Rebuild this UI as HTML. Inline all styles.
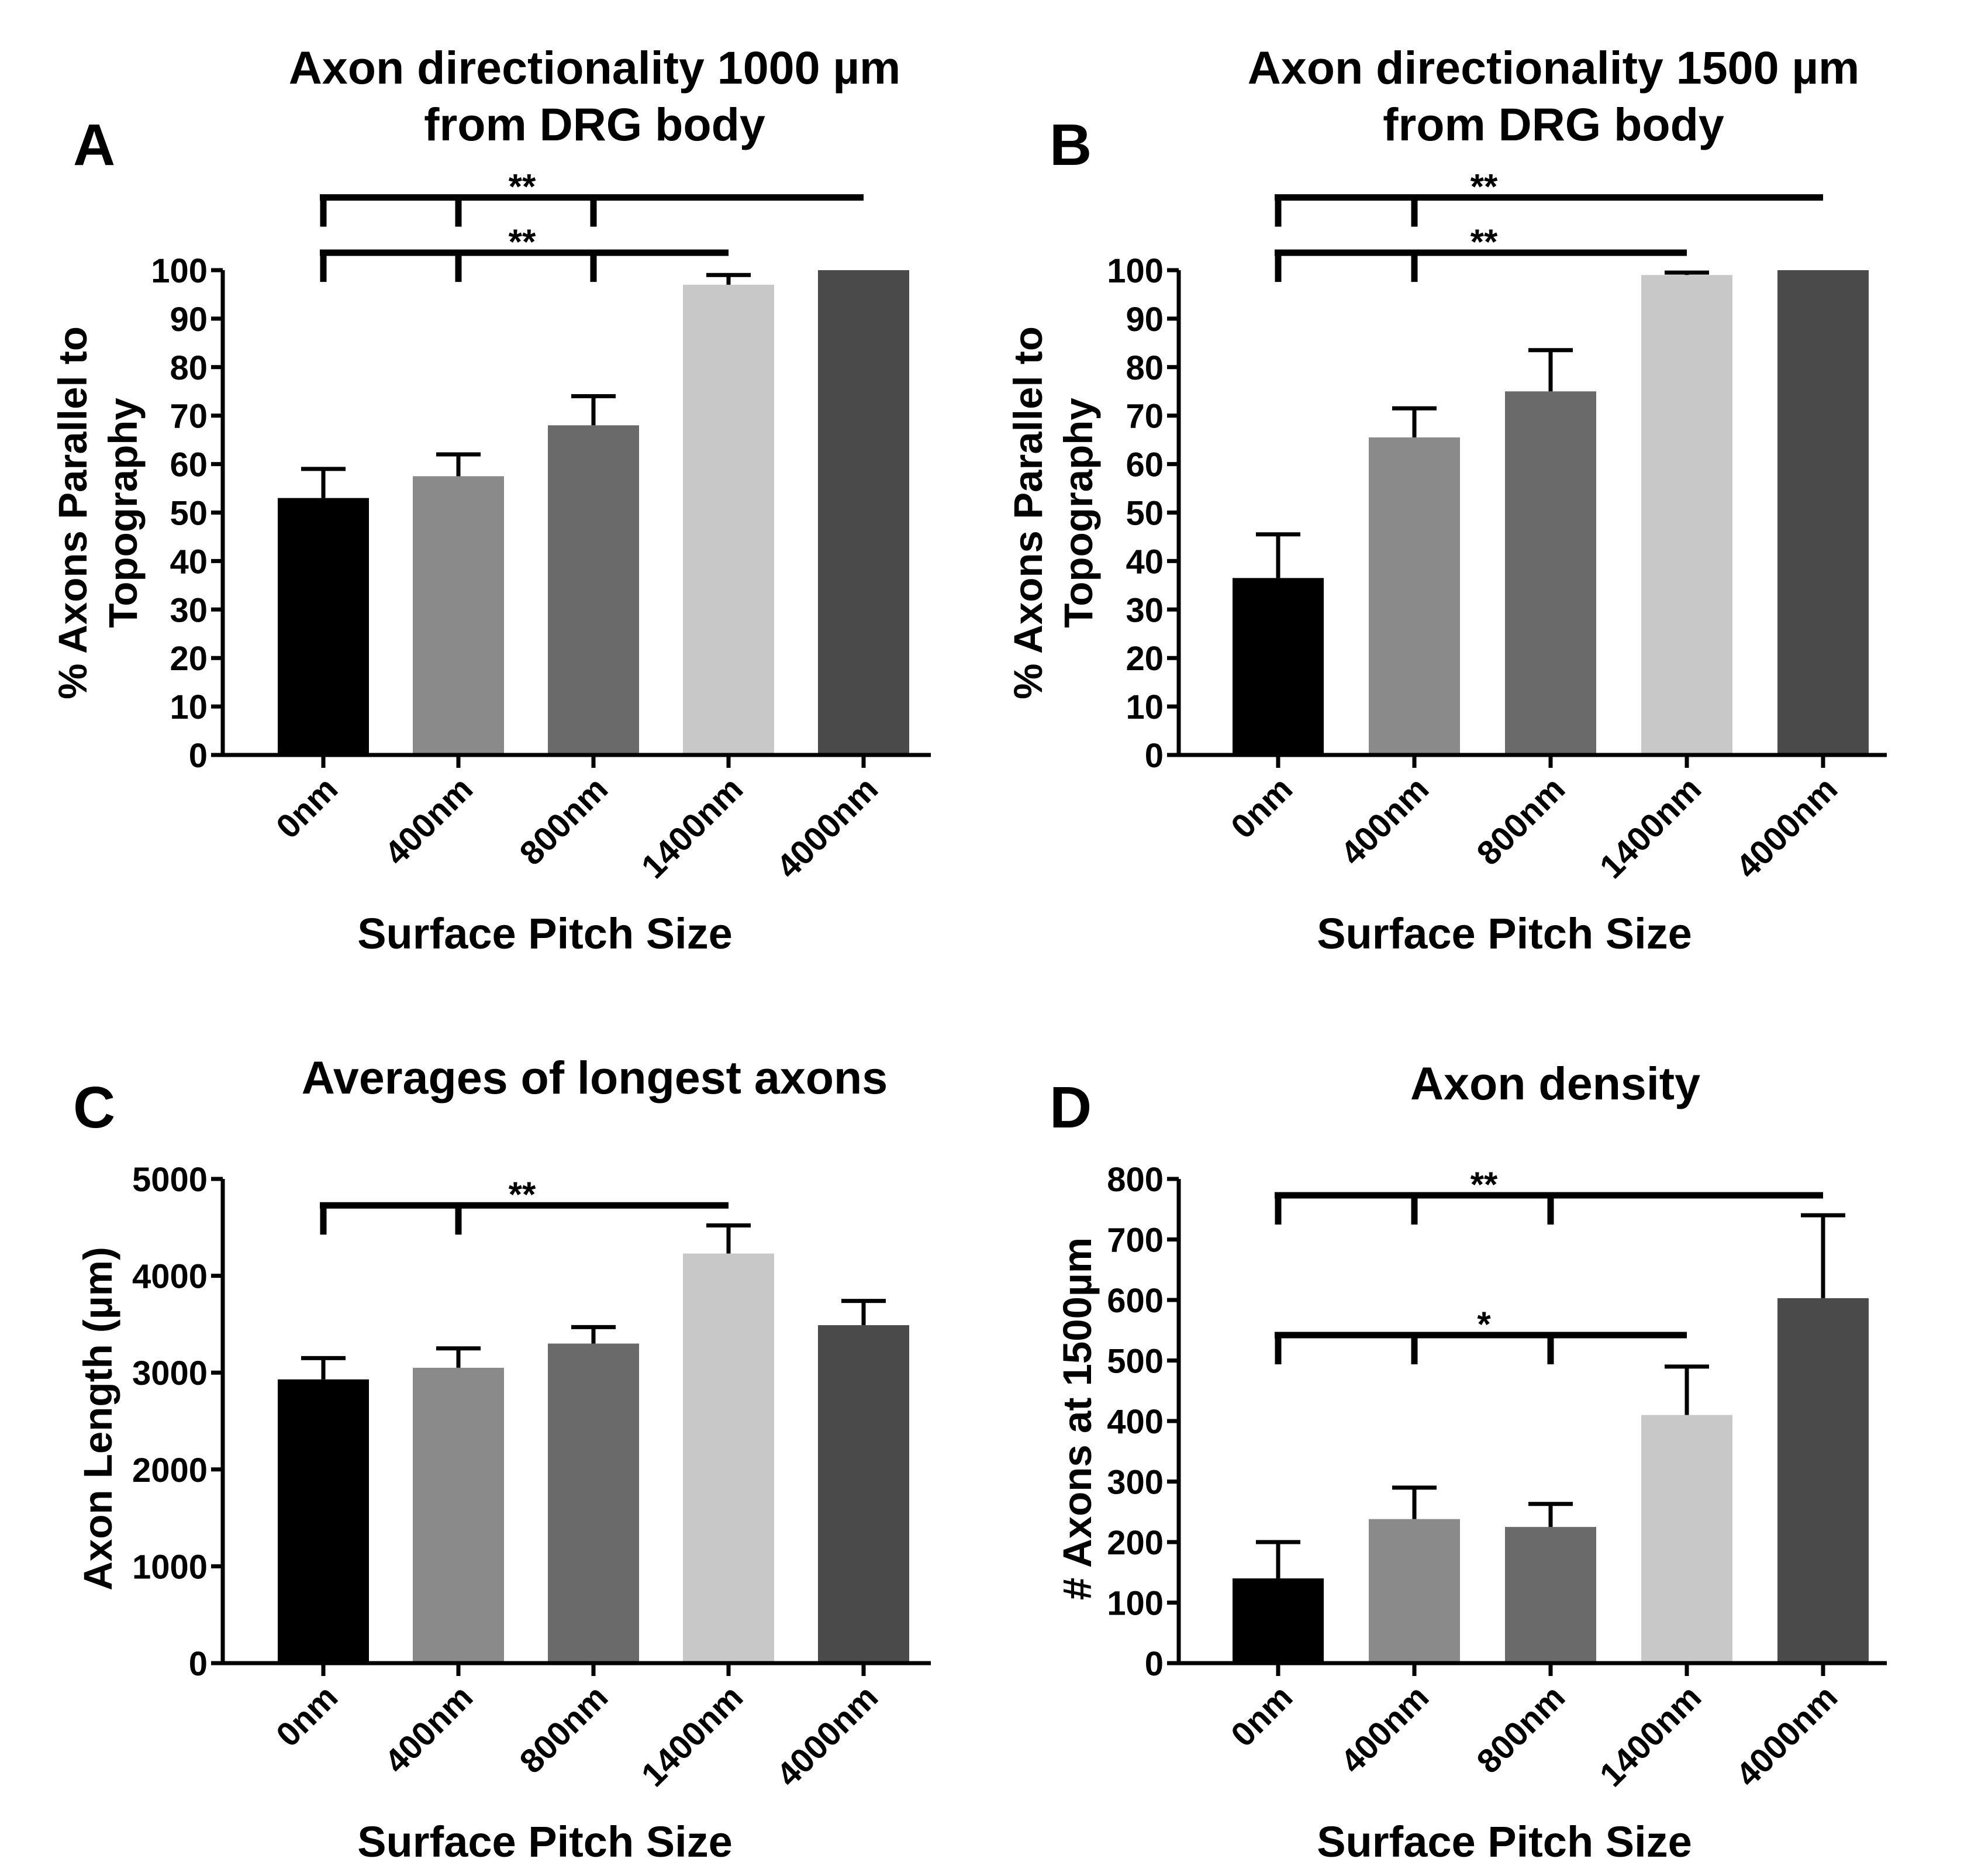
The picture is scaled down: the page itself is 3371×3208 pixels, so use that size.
<!DOCTYPE html>
<html><head><meta charset="utf-8"><style>
html,body{margin:0;padding:0;background:#fff}
svg{display:block}
text{font-family:"Liberation Sans",Arial,sans-serif;font-weight:bold;fill:#000}
</style></head>
<body>
<svg id="fig" width="3371" height="3208" viewBox="0 0 3371 3208" xmlns="http://www.w3.org/2000/svg"></svg>
<script>
const categories = ["0nm","400nm","800nm","1400nm","4000nm"];
const barColors = ["#000000","#8a8a8a","#6a6a6a","#c8c8c8","#4a4a4a"];
const valuesA = [53,57.5,68,97,100];
const errorsA = [6,4.5,6,2,0];
const valuesB = [36.5,65.5,75,99,100];
const errorsB = [9,6,8.5,0.5,0];
const valuesC = [2930,3050,3300,4230,3490];
const errorsC = [220,200,170,290,250];
const valuesD = [140,238,225,410,603];
const errorsD = [60,52,38,80,137];
const ticksA = [0,10,20,30,40,50,60,70,80,90,100];
const ticksC = [0,1000,2000,3000,4000,5000];
const ticksD = [0,100,200,300,400,500,600,700,800];

const NS="http://www.w3.org/2000/svg";
const svg=document.getElementById('fig');
function mk(tag,attrs,parent,txt){const e=document.createElementNS(NS,tag);for(const k in attrs)e.setAttribute(k,attrs[k]);if(txt!==undefined)e.textContent=txt;(parent||svg).appendChild(e);return e;}

function panel(p){
  const g=mk('g',{});
  
  
  const y0=p.y0, yTop=p.yTop, ax=p.ax, max=p.ticks[p.ticks.length-1];
  const ys=v=>y0-(v/max)*(y0-yTop);
  const xs=i=>p.x0+i*p.step;
  p.values.forEach((v,i)=>{
    const r=mk('rect',{x:xs(i)-78,y:ys(v),width:156,height:y0-ys(v),fill:barColors[i]},g);
    
    
    const e=p.errors[i];
    if(e>0){
      const eb=mk('path',{d:`M${xs(i)} ${ys(v)} V${ys(v+e)} M${xs(i)-38} ${ys(v+e)} H${xs(i)+38}`,stroke:'#000','stroke-width':7,fill:'none'},g);
      
      
    }
  });
  const yaxis=mk('path',{d:`M${ax} ${yTop} V${y0}`,stroke:'#000','stroke-width':7},g);
  
  
  const xaxis=mk('path',{d:`M${ax-20} ${y0} H${p.xEnd}`,stroke:'#000','stroke-width':7},g);
  
  
  p.ticks.forEach(t=>{
    mk('path',{d:`M${ax-20} ${ys(t)} H${ax}`,stroke:'#000','stroke-width':7},g);
    const tl=mk('text',{x:ax-26,y:ys(t)+21,'font-size':58,'text-anchor':'end'},g,String(t));
    
    
  });
  categories.forEach((c,i)=>{
    mk('path',{d:`M${xs(i)} ${y0} V${y0+22}`,stroke:'#000','stroke-width':7},g);
    const tl=mk('text',{x:0,y:0,'font-size':58,'text-anchor':'end',transform:`translate(${xs(i)+28},${y0+62}) rotate(-45)`},g,c);
    
    
  });
  p.brackets.forEach(b=>{
    const ly=ys(b.level);
    let d=`M${xs(0)-6} ${ly} H${xs(b.to)}`;
    b.drops.forEach(i=>{d+=` M${xs(i)} ${ly} V${ly+50}`;});
    const br=mk('path',{d:d,stroke:'#000','stroke-width':11,fill:'none'},g);
    
    
    const st=mk('text',{x:b.starX,y:ly+2,'font-size':60,'text-anchor':'middle'},g,b.stars);
    
    
  });
  p.title.forEach((t,k)=>{
    const tt=mk('text',{x:p.titleX,y:p.titleY+k*97,'font-size':79,'text-anchor':'middle'},g,t);
    
    
  });
  const pl=mk('text',{x:p.letterX,y:p.letterY,'font-size':100},g,p.letter);
  
  
  p.ytitle.forEach((t,k)=>{
    const yt=mk('text',{x:0,y:0,'font-size':69,'text-anchor':'middle',transform:`translate(${p.ytX+k*86},${p.ytY}) rotate(-90)`},g,t);
    
    
  });
  const xt=mk('text',{x:p.xtX,y:p.xtY,'font-size':74,'text-anchor':'middle'},g,'Surface Pitch Size');
  
  
}

panel({name:'panel-a',letter:'A',values:valuesA,errors:errorsA,ticks:ticksA,ax:381,y0:1291,yTop:462,x0:553,step:231,xEnd:1592,
  brackets:[{level:115,to:4,drops:[0,1,2],stars:'**',starX:893},{level:103.6,to:3,drops:[0,1,2],stars:'**',starX:893}],
  title:['Axon directionality 1000 µm','from DRG body'],titleX:1017,titleY:143,letterX:125,letterY:282,
  ytitle:['% Axons Parallel to','Topography'],ytX:148,ytY:877,xtX:932,xtY:1622});
panel({name:'panel-b',letter:'B',values:valuesB,errors:errorsB,ticks:ticksA,ax:2016,y0:1291,yTop:462,x0:2186,step:233,xEnd:3227,
  brackets:[{level:115,to:4,drops:[0,1],stars:'**',starX:2538},{level:103.6,to:3,drops:[0,1],stars:'**',starX:2538}],
  title:['Axon directionality 1500 µm','from DRG body'],titleX:2657,titleY:143,letterX:1795,letterY:282,
  ytitle:['% Axons Parallel to','Topography'],ytX:1782,ytY:877,xtX:2573,xtY:1622});
panel({name:'panel-c',letter:'C',values:valuesC,errors:errorsC,ticks:ticksC,ax:381,y0:2844,yTop:2016,x0:553,step:231,xEnd:1592,
  brackets:[{level:4727,to:3,drops:[0,1],stars:'**',starX:893}],
  title:['Averages of longest axons'],titleX:1017,titleY:1870,letterX:125,letterY:1928,
  ytitle:['Axon Length (µm)'],ytX:191,ytY:2426,xtX:932,xtY:3175});
panel({name:'panel-d',letter:'D',values:valuesD,errors:errorsD,ticks:ticksD,ax:2016,y0:2844,yTop:2016,x0:2186,step:233,xEnd:3227,
  brackets:[{level:773,to:4,drops:[0,1,2],stars:'**',starX:2538},{level:542,to:3,drops:[0,1,2],stars:'*',starX:2538}],
  title:['Axon density'],titleX:2660,titleY:1880,letterX:1795,letterY:1928,
  ytitle:['# Axons at 1500µm'],ytX:1866,ytY:2426,xtX:2573,xtY:3175});
</script>
</body></html>
